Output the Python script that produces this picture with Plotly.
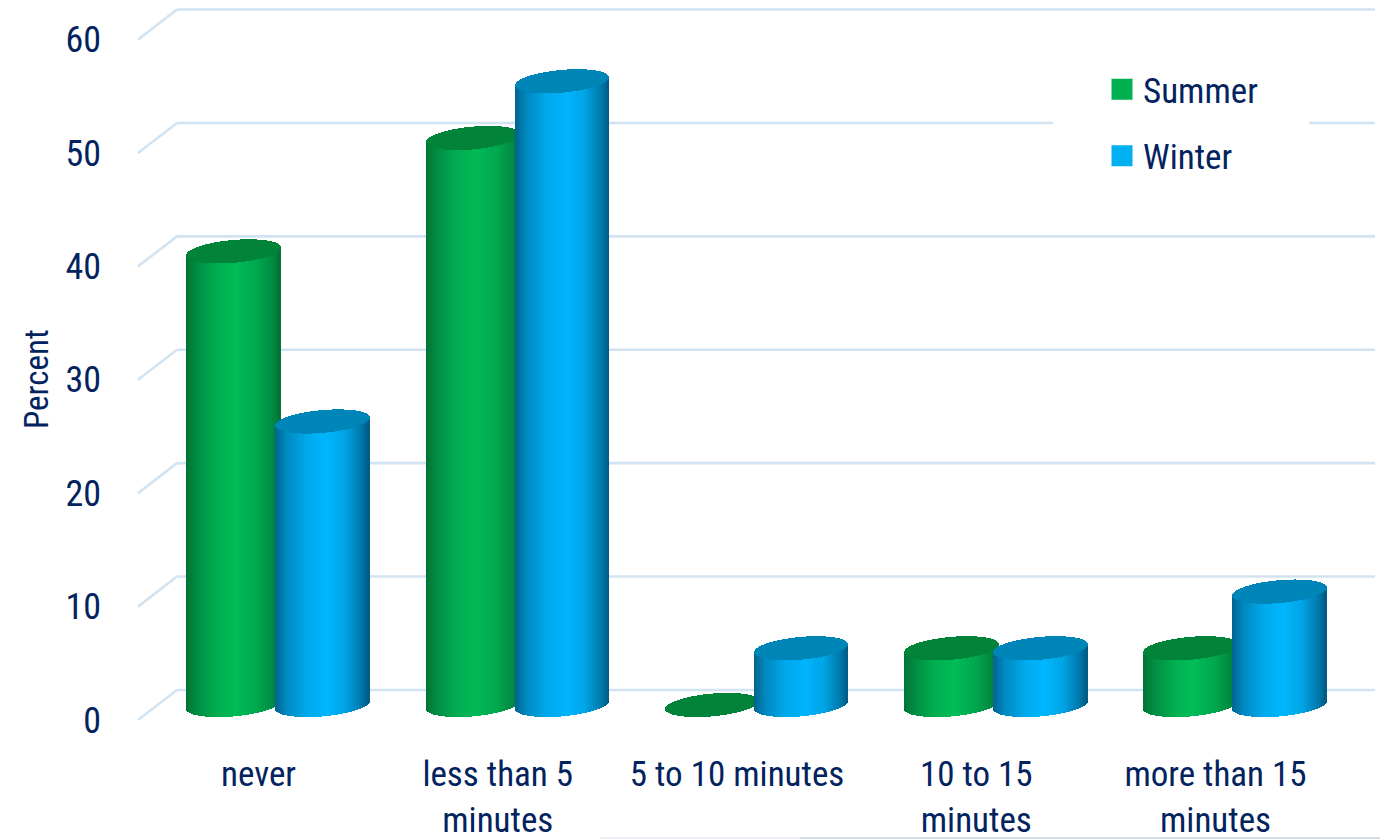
import numpy as np
import plotly.graph_objects as go

CATEGORIES = ["never", "less than 5<br>minutes", "5 to 10 minutes", "10 to 15<br>minutes", "more than 15<br>minutes"]
SUMMER = [40, 50, 0, 5, 5]
WINTER = [25, 55, 5, 5, 10]
TICKS = [0, 10, 20, 30, 40, 50, 60]

NAVY = "#03235f"
GRID = "#d2e3f1"
FONT = "Roboto Condensed"

# page geometry (plot sits inside the page's body margin)
PAGE = 8
FIG_W, FIG_H = 1380, 832
L = 94
B = PAGE + FIG_H - 720

# 3D projection constants
CAT0_PX = 278
PX_PER_CAT = 239.25
PX_PER_VAL = 11.34
DEPTH = 2.65
LIFT = DEPTH / 2
RX = 47 / PX_PER_CAT
TILT = 4 / PX_PER_VAL
RY = 11.4 / PX_PER_VAL
OFFSET = 44.5 / PX_PER_CAT
LABEL_SHIFT = 19.5 / PX_PER_CAT   # labels sit on the front edge of the floor
N = 94


def cx(px):
    return (px - CAT0_PX) / PX_PER_CAT


def paper_x(px):
    return (px - PAGE - L) / (FIG_W - L)


def paper_y(py):
    return (720 - py) / (720 - PAGE)


X_MIN, X_MAX = cx(PAGE + L), cx(PAGE + FIG_W)
FRONT_X, BACK_X, END_X = cx(138), cx(177), cx(1375)


def lerp(stops, u):
    us = [s[0] for s in stops]
    cs = np.array([s[1] for s in stops], float)
    return "rgb(%d,%d,%d)" % tuple(np.interp(u, us, cs[:, i]) for i in range(3))


GREEN_STOPS = [(-1, (3, 116, 56)), (-0.75, (3, 145, 70)), (-0.3, (3, 178, 85)), (0.05, (3, 190, 90)),
               (0.5, (3, 170, 81)), (0.85, (3, 140, 68)), (1, (2, 115, 55))]
BLUE_STOPS = [(-1, (6, 100, 145)), (-0.75, (3, 140, 195)), (-0.3, (1, 172, 238)), (0.1, (0, 184, 254)),
              (0.5, (0, 165, 228)), (0.85, (2, 120, 170)), (1, (3, 92, 132))]


def cylinder_traces(name, values, centers, stops, cap_color):
    u = (np.arange(N) + 0.5) / N * 2 - 1
    arc = np.sqrt(1 - u ** 2)
    xs, bases, heights, colors = [], [], [], []
    cap_x, cap_base, cap_h = [], [], []
    for c, v in zip(centers, values):
        low = LIFT + TILT * u - RY * arc
        xs.extend(c + RX * u)
        bases.extend(low)
        heights.extend([v] * N)
        colors.extend(lerp(stops, k) for k in u)
        cap_x.extend(c + RX * u)
        cap_base.extend(v + low)
        cap_h.extend(2 * RY * arc)
    w = RX * 2 / N * 1.5
    side = go.Bar(x=xs, y=heights, base=bases, width=w, name=name, showlegend=False, hoverinfo="skip",
                  marker=dict(color=colors, line=dict(width=0.02, color=colors)))
    cap = go.Bar(x=cap_x, y=cap_h, base=cap_base, width=w, name=name, showlegend=False, hoverinfo="skip",
                 marker=dict(color=cap_color, line=dict(width=0.02, color=cap_color)))
    return side, cap


fig = go.Figure()
cats = np.arange(len(CATEGORIES))
s_side, s_cap = cylinder_traces("Summer", SUMMER, cats - OFFSET, GREEN_STOPS, "#04853c")
w_side, w_cap = cylinder_traces("Winter", WINTER, cats + OFFSET, BLUE_STOPS, "#0187ba")
for tr in (s_side, s_cap, w_side, w_cap):
    fig.add_trace(tr)

for name, col, grp in (("Summer", "#00b050", "a"), ("Winter", "#00b0f0", "b")):
    fig.add_trace(go.Scatter(x=[None], y=[None], mode="markers", name=name, legendgroup=grp,
                             marker=dict(symbol="square", size=16, color=col, line=dict(width=5, color=col))))

shapes = []
for v in TICKS:
    for (x0, y0, x1, y1) in ((FRONT_X, v, BACK_X, v + DEPTH), (BACK_X, v + DEPTH, END_X, v + DEPTH)):
        shapes.append(dict(type="line", xref="x", yref="y", layer="below", x0=x0, y0=y0, x1=x1, y1=y1,
                           line=dict(color=GRID, width=2.6)))
shapes.append(dict(type="rect", xref="x", yref="y", layer="below", line_width=0, fillcolor="white",
                   x0=cx(1053), x1=cx(1309), y0=50 + DEPTH - 0.4, y1=50 + DEPTH + 0.4))
shapes.append(dict(type="line", xref="paper", yref="paper", x0=paper_x(600), x1=paper_x(800),
                   y0=paper_y(838), y1=paper_y(838), line=dict(color="#eceff6", width=2)))
shapes.append(dict(type="line", xref="paper", yref="paper", x0=paper_x(800), x1=1,
                   y0=paper_y(838), y1=paper_y(838), line=dict(color="#d4dbea", width=2)))

fig.update_layout(
    width=FIG_W, height=FIG_H, autosize=False,
    margin=dict(l=L, r=0, t=0, b=B),
    paper_bgcolor="white", plot_bgcolor="rgba(0,0,0,0)",
    barmode="overlay", bargap=0,
    font=dict(family=FONT, color=NAVY, size=35),
    xaxis=dict(range=[X_MIN, X_MAX], tickvals=list(cats - LABEL_SHIFT), ticktext=CATEGORIES, showgrid=False,
               zeroline=False, showline=False, ticks="outside", ticklen=23, tickcolor="rgba(0,0,0,0)",
               tickfont=dict(family=FONT, size=35, color=NAVY), tickangle=0),
    yaxis=dict(range=[0, (720 - PAGE) / PX_PER_VAL], tickvals=TICKS, showgrid=False, zeroline=False, showline=False,
               tickfont=dict(family=FONT, size=36, color=NAVY)),
    legend=dict(x=paper_x(1101), xanchor="left", y=paper_y(60), yanchor="top",
                bgcolor="rgba(0,0,0,0)", itemwidth=32, tracegroupgap=18,
                font=dict(family=FONT, size=35, color=NAVY)),
    annotations=[dict(text="Percent", xref="paper", yref="paper", x=paper_x(36), y=paper_y(379),
                      xanchor="center", yanchor="middle", textangle=-90, showarrow=False,
                      font=dict(family=FONT, size=33, color=NAVY))],
    shapes=shapes,
)

fig.write_html("out.html")
